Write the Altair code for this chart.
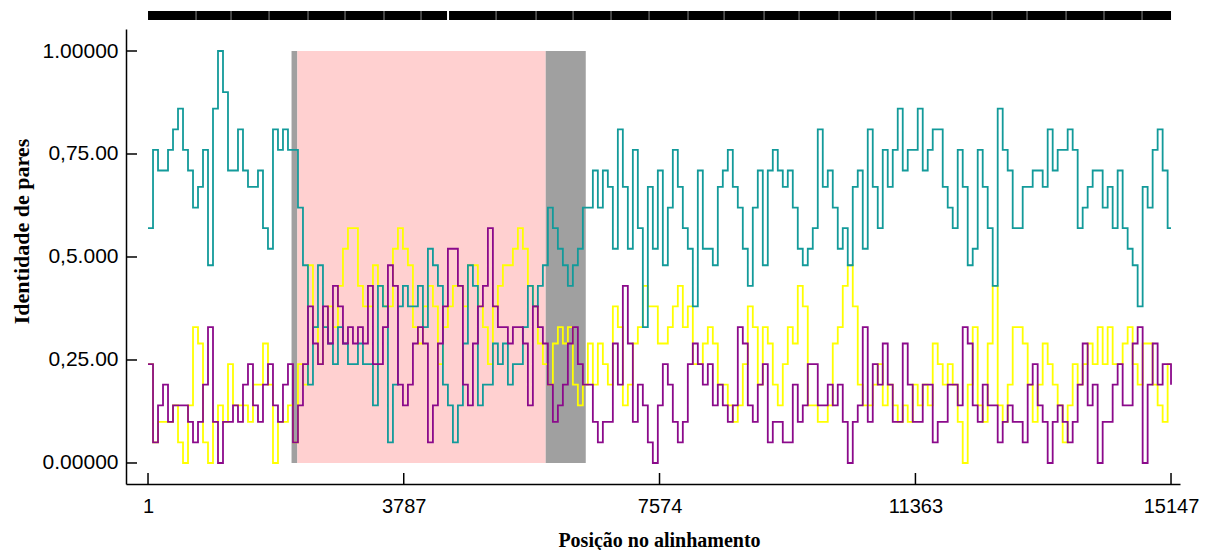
import altair as alt
import pandas as pd

# ---- axis ticks / labels ----
X_TICKS = [1, 3787, 7574, 11363, 15147]
Y_TICKS = [0, 0.25, 0.5, 0.75, 1.0]
Y_TICK_LABELS = ["0.00000", "0,25.00", "0,5.000", "0,75.00", "1.00000"]

# ---- window positions (alignment coordinate of each window) ----
POS_FIRST = 1
POS_STEP = 74
POS_LAST = 15147

# ---- pairwise identity series ----
TEAL = [
    .57, .76, .71, .71, .76, .81, .86, .76, .71, .62, .67, .76, .48, .86, 1.0, .90, .71, .71, .81, .71,
    .67, .67, .71, .57, .52, .81, .76, .81, .76, .76, .62, .48, .19, .33, .48, .33, .29, .24, .33, .29, .24,
    .24, .29, .24, .24, .14, .43, .38, .05, .19, .38, .43, .38, .38, .43, .33, .52, .48, .43, .19, .14,
    .05, .14, .29, .48, .43, .14, .19, .19, .29, .24, .29, .19, .24, .24, .33, .43, .38, .43, .48, .62, .57,
    .52, .48, .43, .48, .52, .62, .62, .71, .62, .71, .67, .52, .81, .67, .52, .76, .57, .33, .67, .52,
    .71, .48, .62, .76, .67, .57, .52, .38, .71, .52, .52, .48, .67, .71, .76, .67, .62, .52, .43, .62, .71,
    .48, .71, .76, .71, .67, .71, .62, .52, .48, .52, .57, .81, .67, .71, .62, .52, .57, .48, .67, .71,
    .52, .81, .67, .57, .76, .67, .76, .86, .71, .76, .76, .86, .71, .76, .81, .81, .67, .62, .57, .76, .67,
    .48, .52, .76, .67, .57, .43, .86, .76, .71, .57, .57, .67, .67, .71, .71, .67, .81, .71, .76, .76,
    .81, .76, .57, .62, .67, .71, .71, .62, .67, .57, .71, .57, .52, .48, .38, .67, .62, .76, .81, .71, .57, .57,
]
YELLOW = [
    .24, .05, .10, .10, .10, .14, .05, .00, .14, .33, .29, .05, .00, .10, .14, .10, .24, .14, .14, .14,
    .10, .19, .19, .29, .19, .00, .10, .10, .14, .05, .24, .19, .48, .33, .24, .33, .38, .33, .43, .52, .57,
    .57, .43, .38, .38, .48, .43, .38, .38, .52, .57, .52, .48, .33, .29, .38, .43, .38, .24, .33, .38,
    .43, .43, .38, .48, .48, .38, .33, .24, .38, .43, .48, .48, .52, .57, .52, .43, .38, .29, .24, .19, .29,
    .33, .29, .33, .19, .14, .19, .29, .19, .29, .24, .19, .38, .33, .14, .19, .29, .33, .43, .38, .38,
    .29, .29, .33, .38, .43, .33, .38, .24, .24, .29, .33, .29, .19, .19, .14, .10, .14, .24, .38, .33, .19,
    .33, .29, .19, .14, .24, .33, .29, .43, .38, .14, .14, .10, .10, .14, .29, .33, .43, .48, .38, .19,
    .14, .14, .19, .24, .14, .19, .14, .10, .14, .10, .19, .14, .19, .14, .29, .24, .19, .24, .19, .10, .00,
    .19, .33, .14, .10, .29, .43, .14, .10, .19, .33, .33, .29, .19, .10, .19, .29, .24, .19, .14, .05,
    .14, .24, .19, .24, .29, .24, .33, .24, .33, .24, .24, .29, .33, .24, .19, .29, .29, .19, .14, .10, .24, .24,
]
PURPLE = [
    .24, .05, .14, .19, .10, .14, .14, .14, .10, .05, .10, .19, .33, .10, .00, .10, .10, .14, .10, .19,
    .24, .14, .10, .19, .24, .14, .10, .19, .24, .05, .14, .24, .38, .29, .24, .38, .29, .43, .38, .29, .33,
    .29, .33, .29, .43, .24, .24, .33, .48, .43, .19, .14, .19, .29, .33, .29, .05, .14, .29, .38, .52,
    .52, .43, .19, .14, .29, .38, .43, .57, .38, .33, .33, .29, .33, .33, .29, .14, .38, .33, .29, .19, .10,
    .14, .19, .29, .33, .24, .19, .19, .10, .05, .10, .10, .29, .19, .43, .29, .10, .19, .14, .05, .00,
    .14, .24, .19, .10, .05, .10, .24, .29, .24, .19, .24, .14, .19, .14, .10, .14, .33, .29, .14, .10, .19,
    .24, .05, .10, .10, .05, .05, .19, .10, .14, .24, .24, .14, .14, .19, .14, .19, .10, .00, .10, .14,
    .33, .10, .24, .19, .29, .19, .10, .10, .29, .19, .10, .10, .19, .19, .05, .10, .10, .19, .19, .14, .33,
    .29, .14, .10, .19, .14, .14, .05, .10, .14, .10, .10, .05, .19, .24, .14, .10, .00, .10, .14, .10,
    .05, .10, .19, .29, .14, .19, .00, .10, .10, .19, .24, .14, .14, .29, .33, .00, .19, .29, .19, .24, .24, .19,
]

SERIES_NAMES = ["yellow", "teal", "purple"]
SERIES_COLORS = ["#ffff00", "#139a9a", "#8b0a8b"]

# ---- shaded regions ----
REGION_START = [2126, 2212, 5889]
REGION_END = [2212, 5889, 6482]
REGION_COLOR = ["#a0a0a0", "#ffd0d0", "#a0a0a0"]

# ---- alignment bar at top ----
BAR_START = [1]
BAR_END = [15147]
BAR_MARKS = [712, 1230, 1793, 2370, 2918, 3495, 4043, 5154, 5746, 6294, 6856, 7419, 7996,
             8530, 9122, 9640, 10232, 10780, 11343, 11890, 12497, 13015, 13593, 14155, 14718]
BAR_GAP = [4443]

X_DOMAIN = [-325, 15280]
Y_DOMAIN = [-0.051, 1.0534]

W, H = 1054, 455

n = len(TEAL)
positions = [POS_FIRST + POS_STEP * i for i in range(n - 1)] + [POS_LAST]

xs = alt.Scale(domain=X_DOMAIN, nice=False, zero=False)
ys = alt.Scale(domain=Y_DOMAIN, nice=False, zero=False)

label_expr = " : ".join(
    [f"datum.value == {v} ? '{l}'" for v, l in zip(Y_TICKS, Y_TICK_LABELS)]
) + " : ''"

x_axis = alt.Axis(
    values=X_TICKS, format="d", grid=False, ticks=False, tickSize=0,
    domain=True, domainColor="black", domainWidth=1.5,
    labelFont="Liberation Sans", labelFontSize=20, labelColor="black",
    labelPadding=12, labelFlush=False, labelOverlap=False,
    title="Posição no alinhamento", titleFont="Liberation Serif", titleFontWeight="bold",
    titleFontSize=20, titleColor="black", titleX=533, titleY=56,
    titleAlign="center", titleBaseline="middle",
)
y_axis = alt.Axis(
    values=Y_TICKS, labelExpr=label_expr, grid=False, ticks=False, tickSize=0,
    domain=True, domainColor="black", domainWidth=1.5,
    labelFont="Liberation Sans", labelFontSize=21, labelColor="black",
    labelPadding=8, labelOverlap=False, labelFlush=False,
    title="Identidade de pares", titleFont="Liberation Serif", titleFontWeight="bold",
    titleFontSize=22, titleColor="black", titleAngle=270, titleX=-105, titleY=202,
    titleAlign="center", titleBaseline="middle",
)

regions = pd.DataFrame({"start": REGION_START, "end": REGION_END, "color": REGION_COLOR,
                        "lo": [0.0] * 3, "hi": [1.0] * 3})
region_layer = alt.Chart(regions).mark_rect().encode(
    x=alt.X("start:Q", scale=xs, axis=x_axis),
    x2="end:Q",
    y=alt.Y("lo:Q", scale=ys, axis=y_axis),
    y2="hi:Q",
    color=alt.Color("color:N", scale=None),
)

line_layers = []
for name, color, vals in zip(SERIES_NAMES, SERIES_COLORS, [YELLOW, TEAL, PURPLE]):
    df = pd.DataFrame({"pos": positions, "val": vals})
    line_layers.append(
        alt.Chart(df).mark_line(interpolate="step-after", color=color, strokeWidth=1.8).encode(
            x=alt.X("pos:Q", scale=xs),
            y=alt.Y("val:Q", scale=ys),
        )
    )

ytick_layer = alt.Chart(pd.DataFrame({"v": Y_TICKS})).mark_rule(color="black", strokeWidth=1.5).encode(
    y=alt.Y("v:Q", scale=ys), x=alt.value(0), x2=alt.value(11)
)
xtick_layer = alt.Chart(pd.DataFrame({"p": X_TICKS})).mark_rule(color="black", strokeWidth=1.5).encode(
    x=alt.X("p:Q", scale=xs), y=alt.value(H - 11), y2=alt.value(H)
)

bar_layer = alt.Chart(pd.DataFrame({"s": BAR_START, "e": BAR_END})).mark_rect(color="black").encode(
    x=alt.X("s:Q", scale=xs), x2="e:Q", y=alt.value(-18), y2=alt.value(-9)
)
bar_marks = alt.Chart(pd.DataFrame({"p": BAR_MARKS})).mark_rule(color="#8a8a8a", strokeWidth=1).encode(
    x=alt.X("p:Q", scale=xs), y=alt.value(-18), y2=alt.value(-9)
)
bar_gap = alt.Chart(pd.DataFrame({"p": BAR_GAP})).mark_rule(color="white", strokeWidth=2).encode(
    x=alt.X("p:Q", scale=xs), y=alt.value(-18), y2=alt.value(-9)
)

chart = alt.layer(
    region_layer, *line_layers, ytick_layer, xtick_layer, bar_layer, bar_marks, bar_gap
).properties(
    width=W, height=H,
    autosize=alt.AutoSizeParams(type="none"),
    padding={"left": 118, "top": 21, "right": 20, "bottom": 66},
).configure(background="white").configure_view(stroke=None)

chart.save("out.html", embed_options={"renderer": "svg", "actions": False})
